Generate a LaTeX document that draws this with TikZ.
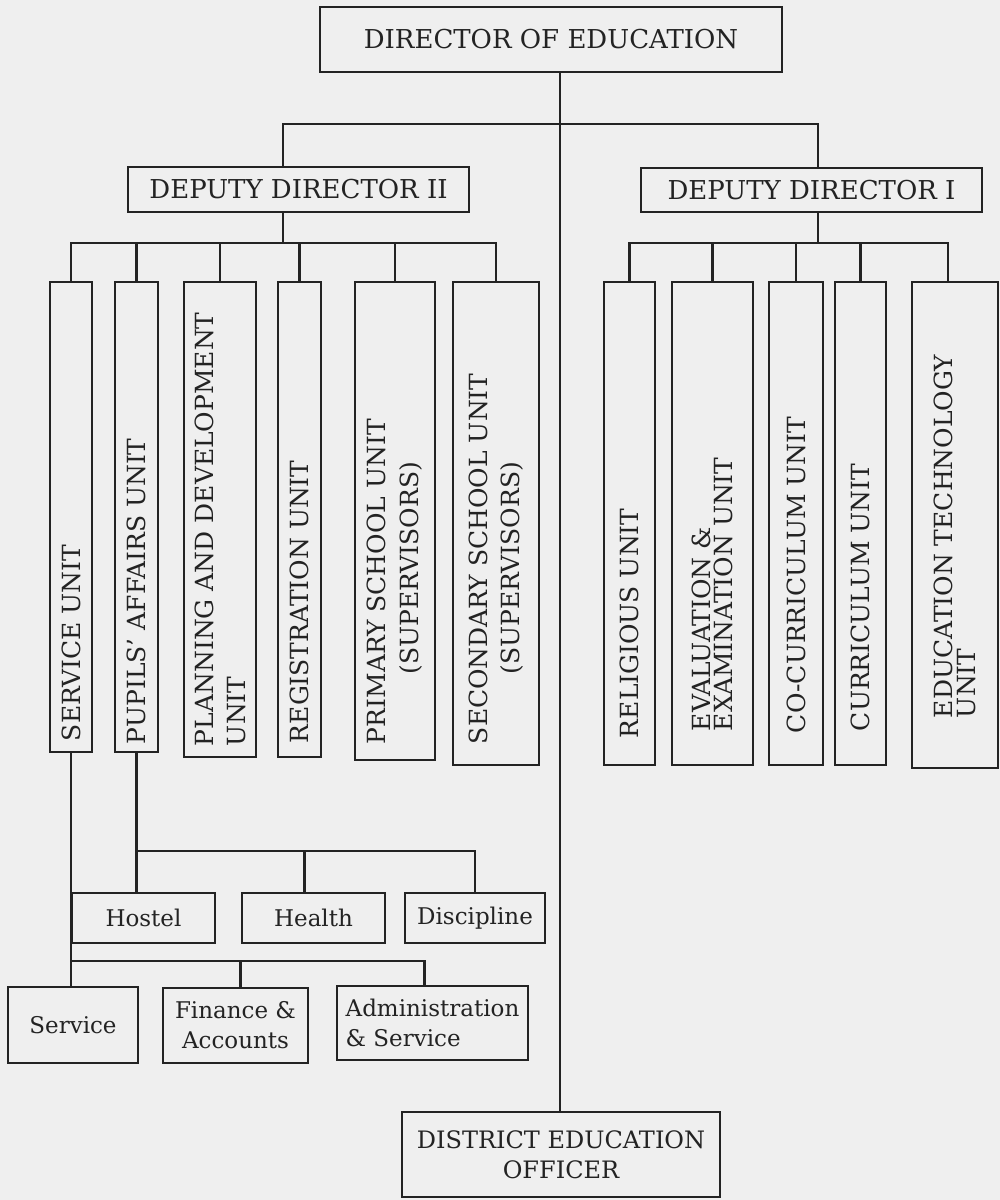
\documentclass[tikz,border=0pt]{standalone}
\usepackage{fontspec}
\setmainfont{DejaVu Serif}
\usepackage{tikz}
\usetikzlibrary{calc}

\definecolor{paper}{RGB}{239,239,239}
\definecolor{ink}{RGB}{35,35,35}

\begin{document}
\begin{tikzpicture}[x=1pt,y=-1pt,
    box/.style={draw=ink, text=ink, line width=2.5pt, inner sep=0pt},
    topbox/.style={box, font=\fontsize{26}{30}\selectfont, align=center},
    subbox/.style={box, font=\fontsize{23}{30}\selectfont, align=center},
    unitbox/.style={box},
    unittext/.style={rotate=90, anchor=west, align=left, inner sep=0pt, text=ink},
    link/.style={draw=ink, line width=2.5pt}]
  \useasboundingbox[fill=paper] (0,0) rectangle (1000,1200);

  %% Director, deputies and the district officer
  \node[topbox, minimum width=462pt, minimum height=65pt] (dir) at (551,39.5) {DIRECTOR OF EDUCATION};
  \node[topbox, minimum width=341pt, minimum height=45pt] (dd2) at (298.5,189.5) {DEPUTY DIRECTOR II};
  \node[topbox, minimum width=341pt, minimum height=44pt] (dd1) at (811.5,190) {DEPUTY DIRECTOR I};
  \node[topbox, font=\fontsize{24}{30}\selectfont, minimum width=318pt, minimum height=85pt] (deo) at (561,1154.5)
    {DISTRICT EDUCATION\\OFFICER};

  %% Upright unit boxes (text runs bottom to top)
  \foreach \nm/\xl/\xr/\yb/\o/\ls/\txt in {
      svc/50/92/752/12/32/{SERVICE UNIT},
      pup/115/158/752/9/32/{PUPILS' AFFAIRS UNIT},
      pln/184/256/757/12/32/{PLANNING AND DEVELOPMENT\\UNIT},
      reg/278/321/757/15/32/{REGISTRATION UNIT},
      pri/355/435/760/17/33/{PRIMARY SCHOOL UNIT\\\hspace*{70pt}(SUPERVISORS)},
      sec/453/539/765/22/32/{SECONDARY SCHOOL UNIT\\\hspace*{70pt}(SUPERVISORS)},
      rel/604/655/765/28/32/{RELIGIOUS UNIT},
      eva/672/753/765/35/22/{EVALUATION \&\\EXAMINATION UNIT},
      coc/769/823/765/33/32/{CO-CURRICULUM UNIT},
      cur/835/886/765/35/32/{CURRICULUM UNIT},
      edt/912/998/768/51/23/{EDUCATION TECHNOLOGY\\UNIT}}
  {
    \pgfmathsetmacro\cx{(\xl+\xr)/2}
    \pgfmathsetmacro\cy{(282+\yb)/2}
    \pgfmathsetmacro\bw{\xr-\xl}
    \pgfmathsetmacro\bl{\yb-282}
    \node[unitbox, minimum width=\bw pt, minimum height=\bl pt] (\nm) at (\cx,\cy) {};
    \node[unittext, font=\fontsize{25}{\ls}\selectfont] (\nm-t) at ($(\nm.south)+(0,-\o)$) {\txt};
  }

  %% Sections under the pupils' affairs and service units
  \node[subbox, minimum width=143pt, minimum height=50pt] (hos) at (143.5,918) {Hostel};
  \node[subbox, minimum width=143pt, minimum height=50pt] (hea) at (313.5,918) {Health};
  \node[subbox, minimum width=140pt, minimum height=50pt] (dis) at (475,918) {Discipline};
  \node[subbox, minimum width=130pt, minimum height=76pt] (srv) at (73,1025) {Service};
  \node[subbox, minimum width=145pt, minimum height=75pt] (fin) at (235.5,1025.5) {Finance \&\\Accounts};
  \node[subbox, align=left, minimum width=191pt, minimum height=74pt] (adm) at (432.5,1023) {Administration\\\& Service};

  %% Junctions
  \coordinate (tj) at (560,124);
  \coordinate (b2) at (283,243);
  \coordinate (b1) at (818,243);
  \coordinate (pj) at (136.5,851);
  \coordinate (sj) at (71,961);

  %% Connectors
  \draw[link] (dir.south -| tj) -- (deo.north -| tj);
  \draw[link] (tj) -| (dd2.north -| b2);
  \draw[link] (tj) -| (dd1.north -| b1);
  \draw[link] (dd2.south -| b2) -- (b2);
  \draw[link] (dd1.south -| b1) -- (b1);
  \foreach \u in {svc,pup,pln,reg,pri,sec}
    \draw[link] (b2) -| (\u.north);
  \foreach \u in {rel,eva,coc,cur}
    \draw[link] (b1) -| (\u.north);
  \draw[link] (b1) -| ([xshift=-7pt]edt.north);

  \draw[link] (pup.south) -- (pup.south |- hos.north);
  \draw[link] (pj) -| ([xshift=-9pt]hea.north);
  \draw[link] (pj) -| (dis.north);
  \draw[link] (svc.south) -- (svc.south |- srv.north);
  \draw[link] (sj) -| ([xshift=5pt]fin.north);
  \draw[link] (sj) -| ([xshift=-8pt]adm.north);
\end{tikzpicture}
\end{document}
